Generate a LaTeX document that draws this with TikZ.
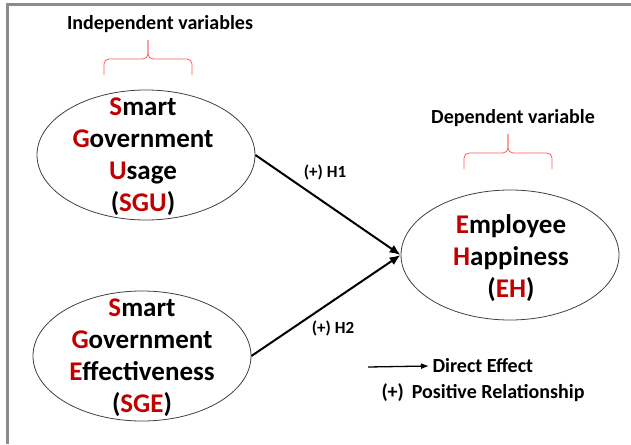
\documentclass[tikz,border=0pt]{standalone}
\usepackage{fontspec}
\setmainfont{Carlito}
\usetikzlibrary{shapes.geometric,arrows.meta}
\definecolor{varred}{HTML}{C00000}
\definecolor{bracered}{HTML}{FF5B5B}
\definecolor{framegray}{HTML}{8C8C8C}
\newcommand{\firstletter}[1]{\textcolor{varred}{#1}}

\begin{document}
\begin{tikzpicture}[x=1pt,y=-1pt,
		>={Latex[length=11pt,width=9pt]},
		var/.style={ellipse,draw=black!75,line width=0.8pt,minimum width=218pt,minimum height=130pt,inner sep=0pt},
		vartext/.style={align=center,font=\bfseries\fontsize{27}{32}\selectfont,inner sep=0pt},
		heading/.style={font=\bfseries\fontsize{20}{24}\selectfont},
		hyp/.style={font=\bfseries\fontsize{17}{20}\selectfont},
		curlybrace/.pic={
			\draw[bracered,line width=0.8pt,rounded corners=5pt] (-44,0) -- (-44,-16) -- (0,-16) -- (0,-35);
			\draw[bracered,line width=0.8pt,rounded corners=5pt] (44,0) -- (44,-16) -- (0,-16) -- (0,-35);
		}]
			\useasboundingbox (0,0) rectangle (631,444);
			\draw[framegray,line width=3pt] (7,444) -- (7,5) -- (631,5);
			\node[var] (sgu) at (146,155) {};
			\node[var] (sge) at (142,356) {};
			\node[var] (eh) at (510,255) {};
			\node[vartext] at (143,157) {\firstletter{S}mart\\\firstletter{G}overnment\\\firstletter{U}sage\\(\firstletter{SGU})};
			\node[vartext] at (142,358) {\firstletter{S}mart\\\firstletter{G}overnment\\\firstletter{E}ffectiveness\\(\firstletter{SGE})};
			\node[vartext] at (511,258) {\firstletter{E}mployee\\\firstletter{H}appiness\\(\firstletter{EH})};
			\node[heading] (indep) at (160,24) {Independent variables};
			\node[heading] (dep) at (513,118) {Dependent variable};
			\pic at (148,75) {curlybrace};
			\pic at (508,169) {curlybrace};
			\draw[->,line width=2pt] (sgu.east) -- (eh.west);
			\draw[->,line width=2pt] (sge.east) -- (eh.west);
			\node[hyp] (h1) at (325,172) {(+) H1};
			\node[hyp] (h2) at (333,328) {(+) H2};
			\node[heading,anchor=west] (direct) at (429,366) {Direct Effect};
			\coordinate (legstart) at (368,367);
			\draw[-{Latex[length=8pt,width=6pt]},line width=1.3pt] (legstart) -- (direct.west);
			\node[heading] (positive) at (483,393) {(+)\, Positive Relationship};
		\end{tikzpicture}
\end{document}
